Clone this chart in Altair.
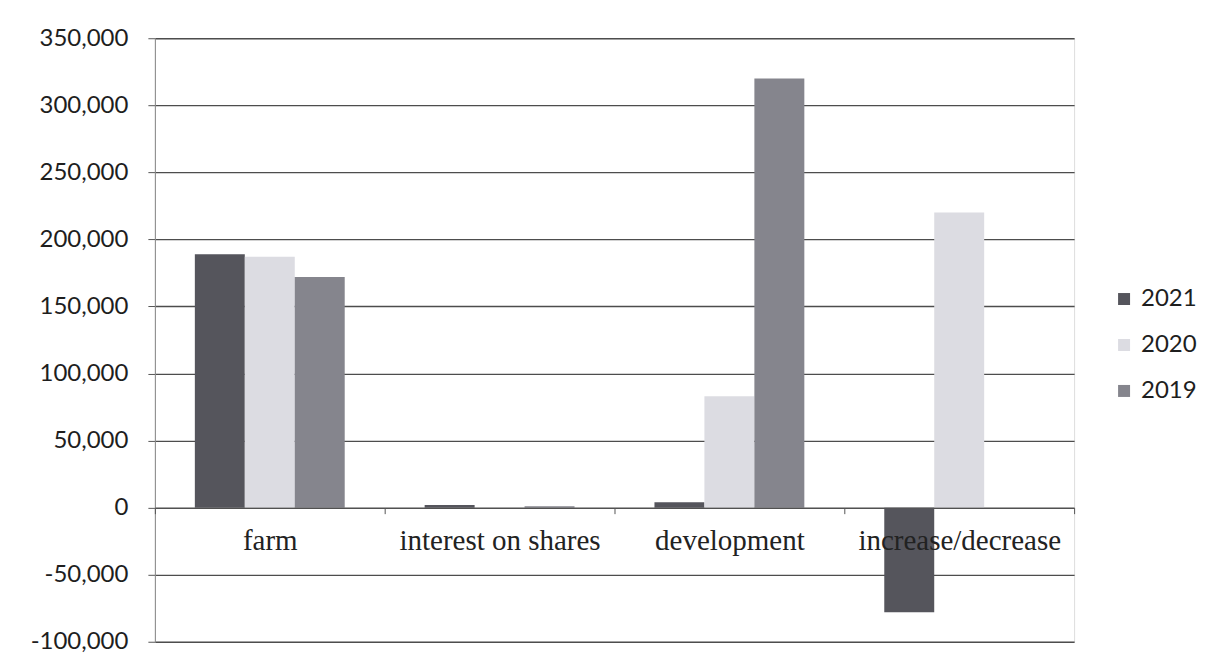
import altair as alt
import pandas as pd

categories = ["farm", "interest on shares", "development", "increase/decrease"]
years = ["2021", "2020", "2019"]
values_2021 = [189000, 2000, 4000, -78000]
values_2020 = [187000, 0, 83000, 220000]
values_2019 = [172000, 1000, 320000, 0]
y_ticks = [-100000, -50000, 0, 50000, 100000, 150000, 200000, 250000, 300000, 350000]

rows = []
for yr, vals in zip(years, [values_2021, values_2020, values_2019]):
    for c, v in zip(categories, vals):
        rows.append({"category": c, "year": yr, "value": v})
df = pd.DataFrame(rows)

colors = ["#55555c", "#dcdce2", "#85858d"]

chart = alt.Chart(df).mark_bar().encode(
    x=alt.X("category:N", sort=categories, title=None,
            scale=alt.Scale(paddingInner=0, paddingOuter=0),
            axis=alt.Axis(labelAngle=0, offset=-134.2, tickBand="extent",
                          tickSize=6, tickColor="#555555", domainColor="#555555",
                          labelFont="Liberation Serif", labelFontSize=29,
                          labelColor="#222222", labelPadding=13, grid=False,
                          labelLimit=0, zindex=1)),
    xOffset=alt.XOffset("year:N", sort=years,
                        scale=alt.Scale(paddingInner=0, paddingOuter=0.8)),
    y=alt.Y("value:Q", title=None,
            scale=alt.Scale(domain=[-100000, 350000], nice=False, zero=False),
            axis=alt.Axis(values=y_ticks,
                          labelExpr="replace(format(datum.value, ',.0f'), '\u2212', '-')",
                          grid=True, gridColor="#4d4d4d",
                          gridWidth=1.3, tickSize=7, tickColor="#555555",
                          domainColor="#888888", labelFont="Lato", labelFontSize=24,
                          labelColor="#1e1e1e", labelPadding=20)),
    color=alt.Color("year:N", sort=years,
                    scale=alt.Scale(domain=years, range=colors),
                    legend=alt.Legend(title=None, orient="none", legendX=958, legendY=249,
                                      symbolType="square", symbolSize=144,
                                      symbolStrokeWidth=0, labelFont="Lato",
                                      labelFontSize=24, labelColor="#1e1e1e",
                                      rowPadding=22, labelOffset=5)),
).properties(
    width=920, height=604,
    autosize=alt.AutoSizeParams(type="none"),
    padding={"left": 147, "top": 30, "right": 130, "bottom": 16},
).configure_view(stroke=None).configure(background="white")

chart.save("out.html", embed_options={"renderer": "svg", "actions": False})
